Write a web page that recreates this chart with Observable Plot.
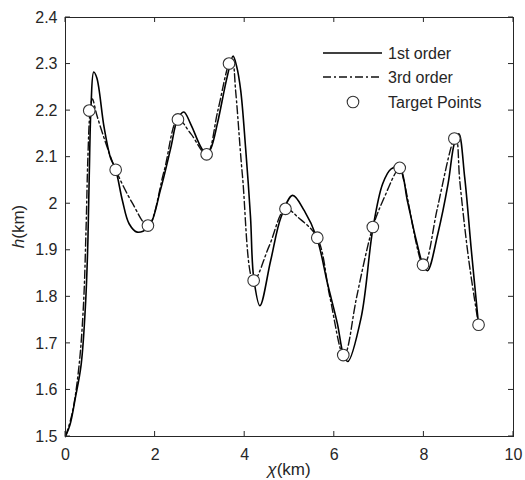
<!DOCTYPE html>
<html>
<head>
<meta charset="utf-8">
<script src="https://cdn.jsdelivr.net/npm/d3@7"></script>
<script src="https://cdn.jsdelivr.net/npm/@observablehq/plot@0.6"></script>
<style>
  html, body { margin: 0; padding: 0; background: #fff; }
  #chart { width: 525px; height: 480px; }
</style>
</head>
<body>
<div id="chart"></div>
<script>
// ---- Data ----
const targetX = [0.53, 1.12, 1.84, 2.51, 3.15, 3.65, 4.20, 4.91, 5.62, 6.20, 6.86, 7.46, 7.98, 8.68, 9.22];
const targetH = [2.200, 2.073, 1.953, 2.181, 2.106, 2.301, 1.835, 1.989, 1.927, 1.675, 1.950, 2.077, 1.869, 2.140, 1.740];

// 1st order curve (solid)
const firstX = [0, 0.10, 0.22, 0.35, 0.45, 0.50, 0.53, 0.57, 0.63, 0.70, 0.86, 1.00, 1.12, 1.27, 1.42, 1.60, 1.86, 2.12, 2.35, 2.50, 2.64, 2.80, 3.02, 3.15, 3.25, 3.39, 3.61, 3.74, 3.82, 3.91, 4.02, 4.13, 4.20, 4.34, 4.58, 4.81, 5.07, 5.33, 5.61, 5.85, 6.07, 6.20, 6.30, 6.60, 6.86, 7.08, 7.27, 7.46, 7.63, 7.83, 7.98, 8.08, 8.31, 8.54, 8.68, 8.78, 8.91, 9.06, 9.22];
const firstH = [1.500, 1.525, 1.583, 1.655, 1.790, 1.920, 2.060, 2.210, 2.283, 2.270, 2.165, 2.100, 2.073, 2.007, 1.957, 1.939, 1.950, 2.030, 2.120, 2.181, 2.197, 2.170, 2.122, 2.106, 2.120, 2.172, 2.273, 2.317, 2.295, 2.244, 2.120, 1.971, 1.842, 1.781, 1.878, 1.971, 2.018, 1.985, 1.927, 1.828, 1.742, 1.677, 1.661, 1.756, 1.946, 2.043, 2.075, 2.077, 2.007, 1.921, 1.869, 1.856, 1.935, 2.043, 2.130, 2.150, 2.057, 1.899, 1.740];

// 3rd order curve (dash-dot)
const thirdX = [0, 0.15, 0.30, 0.40, 0.46, 0.50, 0.55, 0.60, 0.70, 0.90, 1.12, 1.50, 1.84, 2.20, 2.51, 2.80, 3.15, 3.40, 3.65, 3.72, 3.80, 3.95, 4.20, 4.55, 4.91, 5.20, 5.62, 5.90, 6.20, 6.26, 6.50, 6.86, 7.10, 7.46, 7.55, 7.98, 8.05, 8.30, 8.68, 8.72, 8.80, 9.00, 9.22];
const thirdH = [1.500, 1.550, 1.650, 1.780, 1.950, 2.100, 2.200, 2.225, 2.190, 2.130, 2.073, 2.000, 1.953, 2.070, 2.181, 2.150, 2.106, 2.200, 2.301, 2.310, 2.240, 2.060, 1.835, 1.910, 1.989, 1.970, 1.927, 1.800, 1.675, 1.680, 1.800, 1.950, 2.010, 2.077, 2.050, 1.869, 1.875, 1.990, 2.140, 2.142, 2.050, 1.880, 1.740];

const xTicks = [0, 2, 4, 6, 8, 10];
const yTicks = [1.5, 1.6, 1.7, 1.8, 1.9, 2.0, 2.1, 2.2, 2.3, 2.4];
const legendLabels = ["1st order", "3rd order", "Target Points"];

// ---- Tables for the library ----
const first = firstX.map((x, i) => ({x, h: firstH[i]}));
const third = thirdX.map((x, i) => ({x, h: thirdH[i]}));
const targets = targetX.map((x, i) => ({x, h: targetH[i]}));

const ink = "#262626";
const fmtY = d => String(+d.toFixed(1));
const font = "'Liberation Sans', Arial, Helvetica, sans-serif";

const plot = Plot.plot({
  width: 525,
  height: 480,
  marginLeft: 65,
  marginRight: 12,
  marginTop: 17,
  marginBottom: 44,
  style: {fontFamily: font, fontSize: "16px", color: ink, background: "#fff", overflow: "visible"},
  x: {domain: [0, 10], ticks: xTicks},
  y: {domain: [1.5, 2.4], ticks: yTicks},
  marks: [
    Plot.line(third, {x: "x", y: "h", curve: "catmull-rom", stroke: "#111", strokeWidth: 1.4, strokeDasharray: "8,3,2,3"}),
    Plot.line(first, {x: "x", y: "h", curve: "catmull-rom", stroke: "#000", strokeWidth: 1.6}),
    Plot.dot(targets, {x: "x", y: "h", r: 5.8, fill: "#fff", stroke: "#333", strokeWidth: 1.1}),
    Plot.frame({stroke: ink, strokeWidth: 1}),
    Plot.axisX(xTicks, {anchor: "bottom", tickSize: 0, tickPadding: 12, label: null, fill: ink, fontSize: 16}),
    Plot.axisY(yTicks, {anchor: "left", tickSize: 0, tickPadding: 8, label: null, tickFormat: fmtY, fill: ink, fontSize: 16})
  ]
});

document.getElementById("chart").appendChild(plot);

// ---- inward ticks on all four sides, positioned through Plot's own scales ----
const sx = plot.scale("x"), sy = plot.scale("y");
const [x0, x1] = sx.range;
const [y0, y1] = sy.range; // y0 bottom, y1 top
const svg = d3.select(plot);
const tg = svg.append("g").attr("stroke", ink).attr("stroke-width", 1);
xTicks.forEach(v => {
  const px = sx.apply(v);
  tg.append("line").attr("x1", px).attr("x2", px).attr("y1", y0).attr("y2", y0 - 5);
  tg.append("line").attr("x1", px).attr("x2", px).attr("y1", y1).attr("y2", y1 + 5);
});
yTicks.forEach(v => {
  const py = sy.apply(v);
  tg.append("line").attr("x1", x0).attr("x2", x0 + 5).attr("y1", py).attr("y2", py);
  tg.append("line").attr("x1", x1).attr("x2", x1 - 5).attr("y1", py).attr("y2", py);
});

// ---- Axis titles and legend (mixed styles) ----
const g = svg.append("g").attr("font-family", font).attr("fill", ink);

const xt = g.append("text").attr("x", (x0 + x1) / 2).attr("y", 475).attr("text-anchor", "middle").attr("font-size", 17);
xt.append("tspan").attr("font-style", "italic").text("χ");
xt.append("tspan").text("(km)");

const yt = g.append("text").attr("transform", `translate(24,${(y0 + y1) / 2}) rotate(-90)`).attr("text-anchor", "middle").attr("font-size", 17);
yt.append("tspan").attr("font-style", "italic").text("h");
yt.append("tspan").text("(km)");

const lg = g.append("g").attr("text-anchor", "start");
const ly = [53, 77, 102];
lg.append("line").attr("x1", 323).attr("x2", 382).attr("y1", ly[0]).attr("y2", ly[0]).attr("stroke", "#000").attr("stroke-width", 1.6);
lg.append("line").attr("x1", 323).attr("x2", 382).attr("y1", ly[1]).attr("y2", ly[1]).attr("stroke", "#111").attr("stroke-width", 1.4).attr("stroke-dasharray", "8,3,2,3");
lg.append("circle").attr("cx", 353).attr("cy", ly[2]).attr("r", 5.8).attr("fill", "#fff").attr("stroke", "#333").attr("stroke-width", 1.1);
legendLabels.forEach((t, i) => {
  lg.append("text").attr("x", 388).attr("y", ly[i] + 5.5).attr("text-anchor", "start").attr("font-size", 16).text(t);
});
</script>
</body>
</html>
